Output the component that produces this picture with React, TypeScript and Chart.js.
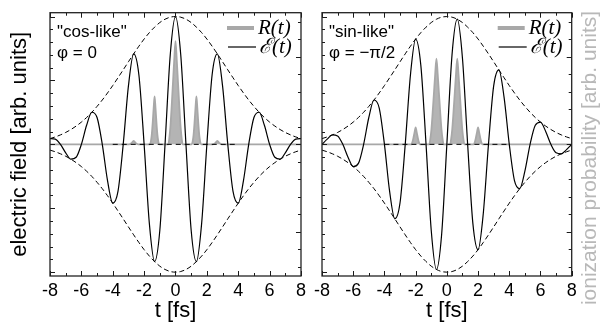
import React, { useEffect, useRef } from "react";
import { Chart, registerables } from "chart.js";
Chart.register(...registerables);

const SANS = "'Liberation Sans', Arial, Helvetica, sans-serif";
const SERIF = "'Liberation Serif', 'DejaVu Serif', serif";

// time axis samples [fs]
const TIME = [-8, -7.667, -7.333, -7, -6.667, -6.333, -6, -5.667, -5.333, -5, -4.667, -4.333, -4, -3.667, -3.333, -3, -2.667, -2.333, -2, -1.667, -1.333, -1, -0.667, -0.333, 0, 0.333, 0.667, 1, 1.333, 1.667, 2, 2.333, 2.667, 3, 3.333, 3.667, 4, 4.333, 4.667, 5, 5.333, 5.667, 6, 6.333, 6.667, 7, 7.333, 7.667, 8];

// pulse envelope (upper dashed curve)
const ENVELOPE = [0.045, 0.058, 0.074, 0.093, 0.116, 0.143, 0.174, 0.21, 0.251, 0.297, 0.347, 0.402, 0.46, 0.521, 0.583, 0.646, 0.708, 0.768, 0.824, 0.874, 0.917, 0.953, 0.979, 0.995, 1.0, 0.995, 0.979, 0.953, 0.917, 0.874, 0.824, 0.768, 0.708, 0.646, 0.583, 0.521, 0.46, 0.402, 0.347, 0.297, 0.251, 0.21, 0.174, 0.143, 0.116, 0.093, 0.074, 0.058, 0.045];

// electric field, "cos-like" (phi = 0)
const FIELD_COS = [0.045, 0.041, 0, -0.066, -0.116, -0.101, 0, 0.149, 0.251, 0.21, 0, -0.284, -0.46, -0.368, 0, 0.457, 0.708, 0.543, 0, -0.618, -0.917, -0.674, 0, 0.703, 1.0, 0.703, 0, -0.674, -0.917, -0.618, 0, 0.543, 0.708, 0.457, 0, -0.368, -0.46, -0.284, 0, 0.21, 0.251, 0.149, 0, -0.101, -0.116, -0.066, 0, 0.041, 0.045];

// electric field, "sin-like" (phi = -pi/2)
const FIELD_SIN = [0, 0.041, 0.074, 0.066, 0, -0.101, -0.174, -0.149, 0, 0.21, 0.347, 0.284, 0, -0.368, -0.583, -0.457, 0, 0.543, 0.824, 0.618, 0, -0.674, -0.979, -0.703, 0, 0.703, 0.979, 0.674, 0, -0.618, -0.824, -0.543, 0, 0.457, 0.583, 0.368, 0, -0.284, -0.347, -0.21, 0, 0.149, 0.174, 0.101, 0, -0.066, -0.074, -0.041, 0];

// ionization probability R(t), cos-like
const R_COS_T = [-8, -2.967, -2.817, -2.667, -2.517, -2.367, -1.633, -1.573, -1.513, -1.453, -1.393, -1.333, -1.273, -1.213, -1.153, -1.093, -1.033, -0.46, -0.4, -0.32, -0.24, -0.16, -0.08, 0, 0.08, 0.16, 0.24, 0.32, 0.4, 0.46, 1.033, 1.093, 1.153, 1.213, 1.273, 1.333, 1.393, 1.453, 1.513, 1.573, 1.633, 2.367, 2.517, 2.667, 2.817, 2.967, 8];
const R_COS_V = [0, 0, 0.06, 0.2, 0.06, 0, 0, 0.16, 0.55, 1.23, 2.06, 2.74, 2.06, 1.23, 0.55, 0.16, 0, 0, 0.3, 1.06, 2.24, 3.54, 4.84, 5.9, 4.84, 3.54, 2.24, 1.06, 0.3, 0, 0, 0.16, 0.55, 1.23, 2.06, 2.74, 2.06, 1.23, 0.55, 0.16, 0, 0, 0.06, 0.2, 0.06, 0, 0];

// ionization probability R(t), sin-like
const R_SIN_T = [-8, -2.28, -2.21, -2.14, -2.07, -2, -1.93, -1.86, -1.79, -1.72, -1.127, -1.067, -0.987, -0.907, -0.827, -0.747, -0.667, -0.587, -0.507, -0.427, -0.347, -0.267, -0.207, 0.207, 0.267, 0.347, 0.427, 0.507, 0.587, 0.667, 0.747, 0.827, 0.907, 0.987, 1.067, 1.127, 1.72, 1.79, 1.86, 1.93, 2, 2.07, 2.14, 2.21, 2.28, 8];
const R_SIN_V = [0, 0, 0.12, 0.37, 0.68, 0.97, 0.68, 0.37, 0.12, 0, 0, 0.25, 0.88, 1.86, 2.94, 4.02, 4.9, 4.02, 2.94, 1.86, 0.88, 0.25, 0, 0, 0.25, 0.88, 1.86, 2.94, 4.02, 4.9, 4.02, 2.94, 1.86, 0.88, 0.25, 0, 0, 0.12, 0.37, 0.68, 0.97, 0.68, 0.37, 0.12, 0, 0];

// dashed zero segment
const ZERO_T = [-4, 4];
const ZERO_V = [0, 0];

// ticks
const X_LABEL_TICKS = [-8, -6, -4, -2, 0, 2, 4, 6, 8];
const X_MINOR_TICKS = [-8, -7, -6, -5, -4, -3, -2, -1, 0, 1, 2, 3, 4, 5, 6, 7, 8];
const Y_TICKS = [-1, -0.9, -0.8, -0.7, -0.6, -0.5, -0.4, -0.3, -0.2, -0.1, 0, 0.1, 0.2, 0.3, 0.4, 0.5, 0.6, 0.7, 0.8, 0.9, 1];
const Y2_TICKS = [-7, -6, -5, -4, -3, -2, -1, 0, 1, 2, 3, 4, 5, 6, 7];

const PANELS = [
  { key: "cos", label1: '"cos-like"', label2: "φ = 0", field: FIELD_COS, rT: R_COS_T, rV: R_COS_V },
  { key: "sin", label1: '"sin-like"', label2: "φ = −π/2", field: FIELD_SIN, rT: R_SIN_T, rV: R_SIN_V },
];

function pts(xs: number[], ys: number[]) {
  return xs.map((x, i) => ({ x, y: ys[i] }));
}

function makePlugin(panelIndex: number) {
  const p = PANELS[panelIndex];
  return {
    id: "decor" + panelIndex,
    afterDraw(chart: any) {
      const { ctx, chartArea, scales } = chart;
      const { left, right, top, bottom } = chartArea;
      ctx.save();
      ctx.strokeStyle = "#1a1a1a";
      ctx.lineWidth = 1;
      ctx.setLineDash([]);
      ctx.beginPath();
      for (const v of X_MINOR_TICKS) {
        const px = Math.round(scales.x.getPixelForValue(v)) + 0.5;
        const len = v % 2 === 0 ? 5 : 3;
        ctx.moveTo(px, bottom);
        ctx.lineTo(px, bottom - len);
        ctx.moveTo(px, top);
        ctx.lineTo(px, top + len);
      }
      for (const v of Y_TICKS) {
        const py = Math.round(scales.y.getPixelForValue(v)) + 0.5;
        const major = Math.abs(v * 2 - Math.round(v * 2)) < 1e-6;
        ctx.moveTo(left, py);
        ctx.lineTo(left + (major ? 5 : 3), py);
      }
      for (const v of Y2_TICKS) {
        const py = Math.round(scales.y2.getPixelForValue(v)) + 0.5;
        const major = v % 5 === 0;
        ctx.moveTo(right, py);
        ctx.lineTo(right - (major ? 5 : 3), py);
      }
      ctx.stroke();
      ctx.lineWidth = 1.3;
      ctx.strokeStyle = "#222";
      ctx.strokeRect(left, top, right - left, bottom - top);

      // panel annotation
      ctx.fillStyle = "#000";
      ctx.textBaseline = "middle";
      ctx.textAlign = "left";
      ctx.font = `17px ${SANS}`;
      ctx.fillText(p.label1, left + 7, 32);
      ctx.fillText(p.label2, left + 7, 53);

      // legend
      ctx.strokeStyle = "#a8a8a8";
      ctx.lineWidth = 4;
      ctx.beginPath();
      ctx.moveTo(right - 74, 28);
      ctx.lineTo(right - 47, 28);
      ctx.stroke();
      ctx.strokeStyle = "#000";
      ctx.lineWidth = 1.2;
      ctx.beginPath();
      ctx.moveTo(right - 73, 47);
      ctx.lineTo(right - 45, 47);
      ctx.stroke();
      ctx.font = `italic 21px ${SERIF}`;
      ctx.fillText("R(t)", right - 43, 28);
      ctx.fillText("ℰ(t)", right - 42, 47);

      if (panelIndex === 1) {
        ctx.save();
        ctx.translate(280, 158);
        ctx.rotate(-Math.PI / 2);
        ctx.textAlign = "center";
        ctx.textBaseline = "middle";
        ctx.font = `21px ${SANS}`;
        ctx.fillStyle = "#b8b8b8";
        ctx.fillText("ionization probability [arb. units]", 0, 0);
        ctx.restore();
      }
      ctx.restore();
    },
  };
}

function Panel({ index, left, width }: { index: number; left: number; width: number }) {
  const ref = useRef<HTMLCanvasElement>(null);
  useEffect(() => {
    const p = PANELS[index];
    const isLeft = index === 0;
    const envLow = ENVELOPE.map((v) => -v);
    const chart = new Chart(ref.current as HTMLCanvasElement, {
      type: "line",
      data: {
        datasets: [
          {
            data: pts(p.rT, p.rV),
            yAxisID: "y2",
            borderColor: "#a8a8a8",
            borderWidth: 1.8,
            backgroundColor: "#b4b4b4",
            fill: "origin",
            pointRadius: 0,
            cubicInterpolationMode: "monotone",
            order: 5,
          },
          {
            data: pts(ZERO_T, ZERO_V),
            yAxisID: "y",
            borderColor: "#000",
            borderWidth: 1,
            borderDash: [5, 4],
            pointRadius: 0,
            fill: false,
            order: 4,
          },
          {
            data: pts(TIME, ENVELOPE),
            yAxisID: "y",
            borderColor: "#000",
            borderWidth: 1,
            borderDash: [5, 3],
            pointRadius: 0,
            fill: false,
            cubicInterpolationMode: "monotone",
            order: 3,
          },
          {
            data: pts(TIME, envLow),
            yAxisID: "y",
            borderColor: "#000",
            borderWidth: 1,
            borderDash: [5, 3],
            pointRadius: 0,
            fill: false,
            cubicInterpolationMode: "monotone",
            order: 2,
          },
          {
            data: pts(TIME, p.field),
            yAxisID: "y",
            borderColor: "#000",
            borderWidth: 1.2,
            pointRadius: 0,
            fill: false,
            cubicInterpolationMode: "monotone",
            order: 1,
          },
        ],
      },
      options: {
        animation: false,
        responsive: false,
        events: [],
        layout: {
          padding: isLeft
            ? { left: 0, right: 8, top: 12.7, bottom: 0 }
            : { left: 10.7, right: 34.3, top: 12.7, bottom: 0 },
        },
        plugins: { legend: { display: false }, tooltip: { enabled: false } },
        scales: {
          x: {
            type: "linear",
            min: -8,
            max: 8,
            afterBuildTicks: (s: any) => {
              s.ticks = X_LABEL_TICKS.map((v) => ({ value: v }));
            },
            afterFit: (s: any) => {
              s.height = 48;
            },
            grid: { display: false, drawTicks: false },
            border: { display: false },
            ticks: {
              font: { family: SANS, size: 18 },
              color: "#000",
              padding: 4,
              maxRotation: 0,
              autoSkip: false,
            },
            title: {
              display: true,
              text: "t [fs]",
              font: { family: SANS, size: 22 },
              color: "#000",
              padding: { top: 0, bottom: 0 },
            },
          },
          y: {
            type: "linear",
            min: -1.03,
            max: 1.03,
            display: isLeft,
            afterFit: (s: any) => {
              s.width = isLeft ? 50 : 0;
            },
            grid: { display: false, drawTicks: false },
            border: { display: false },
            ticks: { display: false },
            title: {
              display: true,
              text: "electric field [arb. units]",
              font: { family: SANS, size: 22 },
              color: "#000",
              padding: { top: 7, bottom: 0 },
            },
          },
          y2: {
            type: "linear",
            position: "right",
            min: -7.53,
            max: 7.53,
            display: false,
          },
        },
      },
      plugins: [makePlugin(index)],
    } as any);
    return () => chart.destroy();
  }, [index]);
  return (
    <canvas
      ref={ref}
      width={width}
      height={324}
      style={{ position: "absolute", left, top: 0, width, height: 324 }}
    />
  );
}

export default function App() {
  return (
    <div style={{ position: "fixed", left: 0, top: 0, width: 606, height: 324, background: "#fff", overflow: "hidden" }}>
      <Panel index={0} left={0} width={310} />
      <Panel index={1} left={310} width={296} />
    </div>
  );
}
